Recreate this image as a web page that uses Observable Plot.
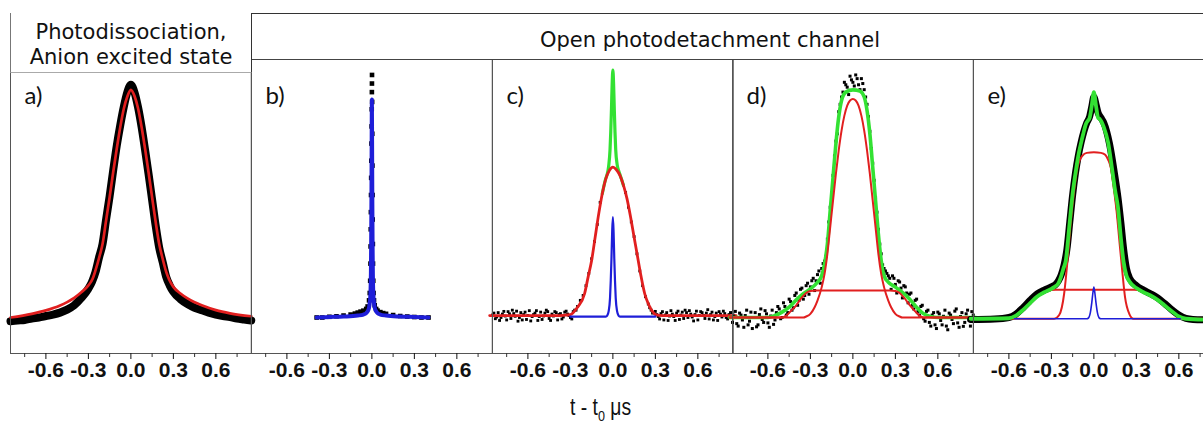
<!DOCTYPE html>
<html><head><meta charset="utf-8">
<script src="https://cdn.jsdelivr.net/npm/d3@7"></script>
<script src="https://cdn.jsdelivr.net/npm/@observablehq/plot@0.6"></script>
<style>
body{margin:0;background:#fff;overflow:hidden}
#root{position:relative;width:1203px;height:426px;overflow:hidden;background:#fff}
.abs{position:absolute;box-sizing:border-box}
.hdr{font-family:"DejaVu Sans",sans-serif;font-size:21px;color:#111;line-height:24px;white-space:nowrap}
</style></head><body><div id="root"></div>
<script>
// ---------------- data (t in µs, signal in normalised units) ----------------
const majorTicks = [-0.6, -0.3, 0, 0.3, 0.6];
const minorTicks = [-0.75, -0.45, -0.15, 0.15, 0.45, 0.75];
const panelLabels = ["a)", "b)", "c)", "d)", "e)"];
const headerLeft = ["Photodissociation,", "Anion excited state"];
const headerRight = "Open photodetachment channel";

// a) photodissociation
const aFit = [[-0.85,0.0],[-0.7,0.015],[-0.6,0.029],[-0.5,0.049],[-0.45,0.063],[-0.4,0.08],[-0.35,0.103],[-0.3,0.131],[-0.27,0.158],[-0.25,0.192],[-0.22,0.253],[-0.2,0.30],[-0.175,0.396],[-0.15,0.491],[-0.125,0.593],[-0.1,0.688],[-0.075,0.777],[-0.05,0.852],[-0.025,0.902],[0,0.929],[0.025,0.905],[0.05,0.855],[0.075,0.78],[0.1,0.69],[0.125,0.592],[0.15,0.49],[0.175,0.39],[0.2,0.30],[0.22,0.25],[0.25,0.185],[0.27,0.155],[0.3,0.125],[0.35,0.098],[0.4,0.078],[0.45,0.062],[0.5,0.05],[0.6,0.03],[0.7,0.017],[0.85,0.005]];
const aData = [[-0.85,-0.015],[-0.8,-0.012],[-0.75,-0.01],[-0.7,-0.004],[-0.65,0.0],[-0.6,0.006],[-0.55,0.012],[-0.5,0.02],[-0.45,0.032],[-0.4,0.05],[-0.35,0.08],[-0.3,0.118],[-0.275,0.145],[-0.25,0.185],[-0.225,0.245],[-0.2,0.30],[-0.175,0.40],[-0.15,0.495],[-0.125,0.60],[-0.1,0.70],[-0.075,0.785],[-0.05,0.86],[-0.025,0.92],[0,0.95],[0.025,0.92],[0.05,0.86],[0.075,0.78],[0.1,0.685],[0.125,0.585],[0.15,0.48],[0.175,0.375],[0.2,0.285],[0.225,0.225],[0.25,0.165],[0.275,0.13],[0.3,0.105],[0.35,0.075],[0.4,0.055],[0.45,0.04],[0.5,0.03],[0.55,0.02],[0.6,0.012],[0.65,0.006],[0.7,0.002],[0.75,-0.004],[0.8,-0.008],[0.85,-0.012]];

// b)
const bFit = [[-0.39,0.0],[-0.3,0.002],[-0.2,0.004],[-0.1,0.008],[-0.06,0.012],[-0.04,0.018],[-0.03,0.025],[-0.02,0.04],[-0.015,0.06],[-0.01,0.10],[-0.007,0.18],[-0.005,0.3],[-0.003,0.5],[-0.0015,0.72],[0,0.89],[0.0015,0.72],[0.003,0.5],[0.005,0.3],[0.007,0.18],[0.01,0.10],[0.015,0.06],[0.02,0.04],[0.03,0.025],[0.04,0.018],[0.06,0.012],[0.1,0.008],[0.2,0.004],[0.3,0.002],[0.4,0.0]];
const bData = [[-0.39,0],[-0.35,0.0],[-0.3,0.003],[-0.25,0.005],[-0.2,0.008],[-0.15,0.012],[-0.12,0.016],[-0.1,0.02],[-0.08,0.024],[-0.06,0.028],[-0.04,0.035],[-0.03,0.045],[-0.02,0.07],[-0.015,0.1],[-0.012,0.15],[-0.01,0.22],[-0.009,0.29],[-0.008,0.36],[-0.007,0.43],[-0.006,0.5],[-0.005,0.57],[-0.004,0.64],[-0.003,0.71],[-0.002,0.78],[-0.001,0.85],[0,0.92],[0.0005,0.955],[0.001,0.99],[0.002,0.88],[0.003,0.75],[0.004,0.62],[0.005,0.5],[0.006,0.4],[0.007,0.3],[0.008,0.22],[0.01,0.15],[0.012,0.1],[0.015,0.07],[0.02,0.05],[0.03,0.035],[0.04,0.028],[0.06,0.022],[0.08,0.018],[0.1,0.015],[0.15,0.01],[0.2,0.006],[0.25,0.004],[0.3,0.002],[0.35,0],[0.4,0]];

// c)
const cRed = [[-0.87,0.008],[-0.4,0.008],[-0.35,0.009],[-0.3,0.012],[-0.25,0.042],[-0.2,0.097],[-0.175,0.165],[-0.15,0.233],[-0.125,0.328],[-0.1,0.423],[-0.075,0.505],[-0.05,0.566],[-0.025,0.60],[0,0.614],[0.025,0.603],[0.05,0.58],[0.075,0.539],[0.1,0.484],[0.125,0.41],[0.15,0.328],[0.175,0.246],[0.2,0.165],[0.225,0.097],[0.25,0.056],[0.275,0.029],[0.3,0.012],[0.35,0.008],[0.87,0.008]];
const cBlue = [[-0.3,0.004],[-0.05,0.004],[-0.04,0.008],[-0.03,0.025],[-0.02,0.08],[-0.015,0.15],[-0.01,0.24],[-0.005,0.35],[0,0.41],[0.005,0.35],[0.01,0.24],[0.015,0.15],[0.02,0.08],[0.03,0.025],[0.04,0.008],[0.05,0.004],[0.3,0.004]];
const cGreen = [[-0.075,0.505],[-0.05,0.568],[-0.04,0.585],[-0.03,0.617],[-0.02,0.685],[-0.015,0.757],[-0.01,0.85],[-0.005,0.955],[0,1.01],[0.005,0.955],[0.01,0.85],[0.015,0.757],[0.02,0.685],[0.03,0.625],[0.04,0.6],[0.05,0.584],[0.075,0.539]];
const cData = [[-0.85,0.01],[-0.83,-0.005],[-0.81,0.02],[-0.79,0.0],[-0.77,0.025],[-0.75,-0.01],[-0.73,0.015],[-0.71,0.03],[-0.69,0.005],[-0.67,-0.015],[-0.65,0.02],[-0.63,0.012],[-0.61,-0.008],[-0.59,0.028],[-0.57,0.004],[-0.55,0.018],[-0.53,-0.012],[-0.51,0.022],[-0.49,0.006],[-0.47,0.03],[-0.45,-0.004],[-0.43,0.014],[-0.41,0.024],[-0.39,-0.01],[-0.37,0.016],[-0.35,0.002],[-0.33,0.026],[-0.31,0.008],[-0.29,-0.006],[-0.27,0.03],[-0.25,0.045],
 [-0.23,0.07],[-0.21,0.09],[-0.19,0.13],[-0.17,0.18],[-0.15,0.24],[-0.13,0.31],[-0.11,0.38],[-0.09,0.47],[0.09,0.51],[0.11,0.45],[0.13,0.39],[0.15,0.33],[0.17,0.26],[0.19,0.19],[0.21,0.13],[0.23,0.085],
 [0.25,0.055],[0.27,0.03],[0.29,0.02],[0.31,0.012],[0.33,-0.006],[0.35,0.024],[0.37,0.01],[0.39,-0.012],[0.41,0.028],[0.43,0.004],[0.45,0.018],[0.47,-0.008],[0.49,0.022],[0.51,0.03],[0.53,0.0],[0.55,0.014],[0.57,-0.014],[0.59,0.026],[0.61,0.008],[0.63,0.02],[0.65,-0.004],[0.67,0.032],[0.69,0.012],[0.71,-0.01],[0.73,0.018],[0.75,0.024],[0.77,0.002],[0.79,0.016],[0.81,-0.006],[0.83,0.02],[0.85,0.01]];
const cData2 = [[-0.84,0.018],[-0.82,0.002],[-0.8,-0.012],[-0.78,0.014],[-0.76,0.006],[-0.74,0.024],[-0.72,-0.004],[-0.7,0.016],[-0.68,0.026],[-0.66,0.0],[-0.64,-0.01],[-0.62,0.022],[-0.6,0.008],[-0.58,-0.014],[-0.56,0.012],[-0.54,0.028],[-0.52,0.004],[-0.5,-0.008],[-0.48,0.018],[-0.46,0.024],[-0.44,-0.012],[-0.42,0.006],[-0.4,0.02],[-0.38,0.012],[-0.36,-0.006],[-0.34,0.022],[-0.32,0.014],[-0.3,0.0],[-0.28,0.024],[-0.26,0.03],
 [0.26,0.04],[0.28,0.018],[0.3,0.025],[0.32,0.004],[0.34,0.016],[0.36,-0.01],[0.38,0.02],[0.4,0.006],[0.42,0.014],[0.44,-0.012],[0.46,0.026],[0.48,0.01],[0.5,-0.004],[0.52,0.02],[0.54,0.028],[0.56,0.002],[0.58,0.012],[0.6,-0.01],[0.62,0.024],[0.64,0.008],[0.66,0.018],[0.68,-0.006],[0.7,0.022],[0.72,0.004],[0.74,-0.012],[0.76,0.014],[0.78,0.026],[0.8,0.0],[0.82,0.012],[0.84,0.02]];

// d)
const dGreen = [[-0.87,0.0],[-0.6,0.0],[-0.55,0.008],[-0.5,0.022],[-0.45,0.042],[-0.4,0.072],[-0.35,0.097],[-0.3,0.117],[-0.25,0.144],[-0.22,0.171],[-0.2,0.219],[-0.18,0.30],[-0.16,0.437],[-0.14,0.573],[-0.12,0.709],[-0.1,0.818],[-0.08,0.886],[-0.05,0.92],[0,0.929],[0.05,0.924],[0.08,0.90],[0.1,0.845],[0.12,0.75],[0.14,0.614],[0.16,0.478],[0.18,0.341],[0.2,0.233],[0.22,0.171],[0.25,0.144],[0.3,0.124],[0.35,0.103],[0.4,0.076],[0.45,0.042],[0.5,0.015],[0.55,0.004],[0.6,0.0],[0.87,0.0]];
const dRedNarrow = [[-0.87,0.0],[-0.35,0.0],[-0.33,0.004],[-0.3,0.015],[-0.27,0.042],[-0.25,0.069],[-0.22,0.124],[-0.2,0.178],[-0.18,0.26],[-0.16,0.369],[-0.14,0.478],[-0.12,0.586],[-0.1,0.682],[-0.08,0.763],[-0.06,0.824],[-0.04,0.865],[-0.02,0.886],[0,0.892],[0.02,0.886],[0.04,0.865],[0.06,0.824],[0.08,0.763],[0.1,0.682],[0.12,0.586],[0.14,0.478],[0.16,0.369],[0.18,0.26],[0.2,0.178],[0.22,0.124],[0.25,0.069],[0.27,0.042],[0.3,0.015],[0.33,0.004],[0.35,0.0],[0.87,0.0]];
const dRedBroad = [[-0.87,0.0],[-0.5,0.0],[-0.47,0.008],[-0.44,0.025],[-0.4,0.05],[-0.36,0.082],[-0.33,0.1],[-0.3,0.108],[-0.26,0.11],[0.26,0.11],[0.3,0.108],[0.33,0.1],[0.36,0.082],[0.4,0.052],[0.44,0.025],[0.47,0.008],[0.5,0.0],[0.87,0.0]];
const dData = [[-0.85,-0.02],[-0.83,0.025],[-0.81,-0.035],[-0.79,0.01],[-0.77,-0.04],[-0.75,0.03],[-0.73,-0.015],[-0.71,-0.045],[-0.69,0.02],[-0.67,-0.03],[-0.65,0.035],[-0.63,-0.02],[-0.61,0.015],[-0.59,-0.04],[-0.57,0.03],[-0.55,-0.01],[-0.53,0.045],[-0.51,-0.005],[-0.49,0.06],[-0.47,0.01],[-0.45,0.075],[-0.43,0.03],[-0.41,0.09],[-0.39,0.05],[-0.37,0.115],[-0.35,0.075],[-0.33,0.13],[-0.31,0.095],[-0.29,0.15],[-0.27,0.11],[-0.25,0.175],[-0.23,0.14],[-0.21,0.22],[-0.19,0.25],[-0.17,0.39],[-0.15,0.49],[-0.13,0.66],[-0.11,0.75],[-0.09,0.87],[-0.07,0.92],[-0.05,0.95],[-0.03,0.91],[-0.01,0.97],[0.01,0.945],[0.03,0.975],[0.05,0.93],[0.07,0.955],[0.09,0.9],[0.11,0.82],[0.13,0.69],[0.15,0.56],[0.17,0.43],[0.19,0.3],[0.21,0.215],[0.23,0.19],[0.25,0.17],[0.27,0.115],[0.29,0.16],[0.31,0.1],[0.33,0.145],[0.35,0.08],[0.37,0.125],[0.39,0.06],[0.41,0.1],[0.43,0.035],[0.45,0.075],[0.47,0.01],[0.49,0.05],[0.51,-0.015],[0.53,0.03],[0.55,-0.035],[0.57,0.02],[0.59,-0.045],[0.61,0.015],[0.63,-0.03],[0.65,0.03],[0.67,-0.05],[0.69,0.01],[0.71,-0.025],[0.73,0.035],[0.75,-0.04],[0.77,0.02],[0.79,-0.02],[0.81,0.03],[0.83,-0.035],[0.85,0.01]];
const dData2 = [[-0.84,0.005],[-0.82,-0.025],[-0.8,0.018],[-0.78,-0.01],[-0.76,0.008],[-0.74,-0.03],[-0.72,0.022],[-0.7,0.0],[-0.68,-0.038],[-0.66,0.012],[-0.64,-0.008],[-0.62,0.028],[-0.6,-0.022],[-0.58,0.006],[-0.56,-0.028],[-0.54,0.02],[-0.52,0.035],[-0.5,0.0],[-0.48,0.045],[-0.46,0.02],[-0.44,0.065],[-0.42,0.04],[-0.4,0.1],[-0.38,0.07],[-0.36,0.12],[-0.34,0.09],[-0.32,0.14],[-0.3,0.125],[-0.28,0.16],[-0.26,0.15],[-0.24,0.19],[-0.22,0.2],[-0.2,0.23],[-0.18,0.32],[-0.16,0.45],[-0.14,0.58],[-0.12,0.72],[-0.1,0.84],[-0.08,0.9],[-0.06,0.96],[-0.04,0.94],[-0.02,0.985],[0,0.96],[0.02,0.99],[0.04,0.95],[0.06,0.975],[0.08,0.93],[0.1,0.87],[0.12,0.76],[0.14,0.63],[0.16,0.49],[0.18,0.36],[0.2,0.26],[0.22,0.2],[0.24,0.18],[0.26,0.16],[0.28,0.17],[0.3,0.135],[0.32,0.15],[0.34,0.12],[0.36,0.13],[0.38,0.1],[0.4,0.095],[0.42,0.05],[0.44,0.07],[0.46,0.025],[0.48,0.045],[0.5,-0.005],[0.52,0.025],[0.54,-0.02],[0.56,0.01],[0.58,-0.03],[0.6,0.022],[0.62,-0.012],[0.64,0.005],[0.66,-0.035],[0.68,0.018],[0.7,-0.008],[0.72,0.026],[0.74,-0.022],[0.76,0.004],[0.78,-0.036],[0.8,0.015],[0.82,-0.01],[0.84,0.024]];

// e)
const eGreen = [[-0.87,-0.005],[-0.6,-0.003],[-0.55,0.008],[-0.5,0.031],[-0.45,0.059],[-0.4,0.086],[-0.35,0.103],[-0.3,0.117],[-0.28,0.124],[-0.25,0.14],[-0.233,0.165],[-0.215,0.2],[-0.198,0.233],[-0.174,0.369],[-0.15,0.505],[-0.127,0.60],[-0.11,0.66],[-0.092,0.709],[-0.075,0.75],[-0.056,0.79],[-0.04,0.805],[-0.03,0.815],[-0.016,0.86],[0,0.92],[0.016,0.86],[0.03,0.815],[0.04,0.811],[0.07,0.777],[0.1,0.716],[0.13,0.60],[0.15,0.518],[0.17,0.45],[0.19,0.328],[0.21,0.226],[0.23,0.171],[0.25,0.148],[0.3,0.12],[0.35,0.103],[0.4,0.09],[0.45,0.072],[0.5,0.049],[0.55,0.026],[0.6,0.004],[0.65,-0.005],[0.87,-0.01]];
const eRedRound = [[-0.87,-0.005],[-0.28,-0.005],[-0.245,0.01],[-0.21,0.097],[-0.186,0.233],[-0.162,0.396],[-0.139,0.518],[-0.115,0.614],[-0.08,0.661],[-0.05,0.672],[0,0.675],[0.05,0.672],[0.08,0.664],[0.1,0.645],[0.12,0.61],[0.14,0.53],[0.16,0.436],[0.18,0.314],[0.2,0.192],[0.22,0.083],[0.25,0.015],[0.28,-0.005],[0.87,-0.005]];
const eRedFlat = [[-0.87,-0.005],[-0.6,-0.003],[-0.55,0.008],[-0.5,0.031],[-0.45,0.059],[-0.4,0.086],[-0.35,0.103],[-0.3,0.112],[-0.27,0.113],[0.285,0.113],[0.31,0.112],[0.35,0.103],[0.4,0.09],[0.45,0.072],[0.5,0.049],[0.55,0.026],[0.6,0.004],[0.65,-0.005],[0.87,-0.008]];
const eBlue = [[-0.56,-0.005],[-0.05,-0.005],[-0.04,-0.003],[-0.025,0.02],[-0.015,0.06],[-0.007,0.1],[0,0.124],[0.007,0.1],[0.015,0.06],[0.025,0.02],[0.04,-0.003],[0.05,-0.005],[0.61,-0.005]];
const eData = [[-0.87,-0.008],[-0.7,-0.006],[-0.6,0.0],[-0.55,0.014],[-0.5,0.04],[-0.45,0.07],[-0.4,0.097],[-0.35,0.112],[-0.3,0.125],[-0.27,0.135],[-0.25,0.15],[-0.23,0.175],[-0.21,0.215],[-0.19,0.28],[-0.17,0.39],[-0.15,0.5],[-0.13,0.59],[-0.11,0.66],[-0.09,0.715],[-0.07,0.76],[-0.05,0.795],[-0.03,0.82],[-0.015,0.86],[0,0.9],[0.015,0.87],[0.03,0.835],[0.05,0.815],[0.07,0.795],[0.09,0.76],[0.11,0.71],[0.13,0.645],[0.15,0.57],[0.17,0.49],[0.19,0.39],[0.21,0.28],[0.23,0.2],[0.25,0.163],[0.3,0.13],[0.35,0.112],[0.4,0.097],[0.45,0.08],[0.5,0.057],[0.55,0.032],[0.6,0.01],[0.65,-0.004],[0.7,-0.008],[0.87,-0.01]];

// ---------------- styling ----------------
const RED = "#e11f1f", GREEN = "#33e133", BLUE = "#1e1ed8";
const root = document.getElementById("root");
const PW = 240.75, X0 = 10, TOP = 59, BOTTOM = 353, TOP_A = 72;
const tickFmt = d => (d < 0 ? "-" : "") + Math.abs(d).toFixed(1);

function line(data, stroke, w) { return Plot.line(data, {stroke, strokeWidth: w, curve: "monotone-x", strokeLinejoin: "round"}); }
function dots(data, r) { return Plot.dot(data, {symbol: "square", r, fill: "#000", stroke: "none"}); }

function panel(i, marks) {
  const isA = i === 0;
  const mt = isA ? 2 + (TOP_A - TOP) : 2;
  const yTop = isA ? 1.0 : 1.0531;
  const chart = Plot.plot({
    width: PW + 4, height: 2 + (BOTTOM - TOP) + 30,
    marginLeft: 2, marginRight: 2, marginTop: mt, marginBottom: 30,
    x: {domain: [-0.85, 0.85], axis: null},
    y: {domain: [-0.1469, yTop], axis: null},
    style: {background: "transparent", overflow: "visible"},
    marks: [
      ...marks,
      Plot.frame({stroke: "#555", strokeWidth: 1}),
      Plot.axisX(minorTicks, {anchor: "bottom", tickSize: 4, tickFormat: () => "", color: "#333", label: null}),
      Plot.axisX(majorTicks, {anchor: "bottom", tickSize: 6, tickPadding: 3, tickFormat: tickFmt, color: "#111", label: null,
        fontSize: 21, fontWeight: "bold", fontFamily: "Liberation Sans, Arial, sans-serif"}),
      Plot.text([panelLabels[i]], {frameAnchor: "top-left", textAnchor: "start", lineAnchor: "top", dx: 14, dy: isA ? 14 : 27,
        fontSize: 24, fontFamily: "Lato, sans-serif", fill: "#111"})
    ]
  });
  chart.classList.add("abs");
  chart.style.left = (X0 + PW * i - 2) + "px";
  chart.style.top = (TOP - 2) + "px";
  root.appendChild(chart);
}

panel(0, [line(aData, "#000", 8), dots(aData, 2.4), line(aFit, RED, 2.7)]);
panel(1, [dots(bData, 2.6), line(bFit, BLUE, 4)]);
panel(2, [dots(cData, 1.6), dots(cData2, 1.6), line(cGreen, GREEN, 3.2), line(cRed, RED, 2.8), line(cBlue, BLUE, 2.2)]);
panel(3, [dots(dData, 1.7), dots(dData2, 1.7), line(dGreen, GREEN, 3.6), line(dRedBroad, RED, 2), line(dRedNarrow, RED, 2)]);
panel(4, [line(eData, "#000", 7), line(eRedFlat, RED, 2), line(eRedRound, RED, 2), line(eGreen, GREEN, 3.8), line(eBlue, BLUE, 1.6)]);

// ---------------- header table ----------------
function div(style, html, cls) { const d = document.createElement("div"); d.className = "abs" + (cls ? " " + cls : ""); Object.assign(d.style, style); if (html != null) d.textContent = html; root.appendChild(d); return d; }
div({left: "10px", top: "13px", width: "1200px", height: "0px", borderTop: "1px solid #333"});
div({left: "10px", top: "13px", width: "242px", height: "60px", borderLeft: "1px solid #777", borderRight: "1px solid #333", borderBottom: "1px solid #aaa", background: "#fff", zIndex: 2});
div({left: "10px", top: "20px", width: "242px", height: "24px", textAlign: "center", zIndex: 3}, headerLeft[0], "hdr");
div({left: "10px", top: "45px", width: "242px", height: "24px", textAlign: "center", zIndex: 3}, headerLeft[1], "hdr");
div({left: "251px", top: "13px", width: "960px", height: "47px", borderBottom: "1px solid #444"});
div({left: "710px", top: "28px", transform: "translateX(-50%)"}, headerRight, "hdr");
const ttl = div({left: "570px", top: "396px", fontFamily: "Liberation Sans, Arial, sans-serif", fontSize: "23px", lineHeight: "23px", color: "#111", whiteSpace: "nowrap", transform: "scaleX(0.84)", transformOrigin: "0 0"});
ttl.innerHTML = "t - t<sub style='font-size:15px'>0</sub> \u03bcs";
</script></body></html>
